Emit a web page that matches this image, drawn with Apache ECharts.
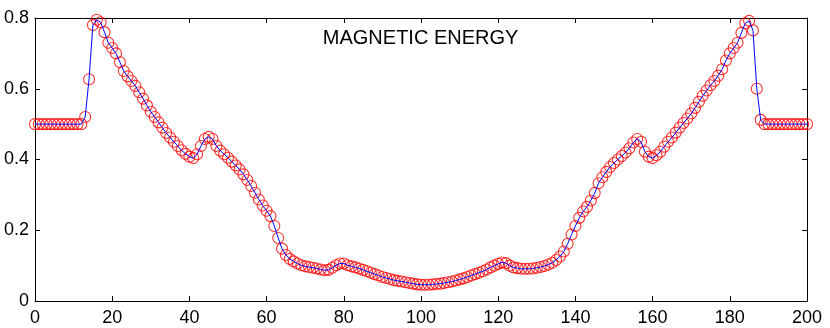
<!DOCTYPE html>
<html><head><meta charset="utf-8">
<script src="https://cdn.jsdelivr.net/npm/echarts@6/dist/echarts.min.js"></script>
<style>html,body{margin:0;padding:0;background:#fff}#c{width:830px;height:328px}</style>
</head><body><div id="c"></div>
<script>
// magnetic energy values, one per x = 0..200
const energy = [
  0.50,0.50,0.50,0.50,0.50,0.50,0.50,0.50,0.50,0.50, // 0-9
  0.50,0.50,0.50,0.52,0.627,0.78,0.795,0.788,0.76,0.73, // 10-19
  0.715,0.70,0.675,0.65,0.635,0.622,0.608,0.59,0.572,0.553, // 20-29
  0.535,0.52,0.505,0.49,0.475,0.462,0.45,0.438,0.426,0.416, // 30-39
  0.408,0.404,0.415,0.438,0.458,0.464,0.458,0.438,0.425,0.415, // 40-49
  0.405,0.394,0.383,0.372,0.358,0.342,0.325,0.306,0.287,0.27, // 50-59
  0.255,0.24,0.212,0.178,0.148,0.13,0.119,0.112,0.106,0.101, // 60-69
  0.098,0.096,0.094,0.092,0.089,0.087,0.088,0.094,0.101,0.106, // 70-79
  0.106,0.101,0.098,0.095,0.092,0.088,0.084,0.080,0.076,0.072, // 80-89
  0.068,0.065,0.062,0.059,0.057,0.055,0.053,0.051,0.049,0.047, // 90-99
  0.046,0.046,0.046,0.047,0.048,0.049,0.051,0.053,0.055,0.058, // 100-109
  0.061,0.064,0.068,0.072,0.076,0.080,0.084,0.089,0.095,0.100, // 110-119
  0.105,0.109,0.107,0.100,0.095,0.093,0.091,0.091,0.091,0.092, // 120-129
  0.094,0.096,0.099,0.103,0.108,0.116,0.126,0.140,0.162,0.188, // 130-139
  0.212,0.235,0.253,0.266,0.284,0.305,0.333,0.350,0.365,0.379, // 140-149
  0.390,0.400,0.410,0.420,0.432,0.448,0.458,0.450,0.422,0.408, // 150-159
  0.404,0.412,0.422,0.436,0.450,0.462,0.476,0.490,0.503,0.516, // 160-169
  0.530,0.546,0.563,0.580,0.595,0.610,0.622,0.637,0.655,0.680, // 170-179
  0.700,0.715,0.730,0.758,0.785,0.792,0.765,0.600,0.512,0.50, // 180-189
  0.50,0.50,0.50,0.50,0.50,0.50,0.50,0.50,0.50,0.50, // 190-199
  0.50 // 200
];
const xTicks = [0,20,40,60,80,100,120,140,160,180,200];
const yTicks = [0,0.2,0.4,0.6,0.8];
const titleText = 'MAGNETIC ENERGY';

const pts = energy.map((v, i) => [i, v]);
const FONT = '"Liberation Sans", Arial, Helvetica, sans-serif';
const chart = echarts.init(document.getElementById('c'), null, {renderer: 'canvas'});

function axisBase(isX, pos, showLabel) {
  const ticks = isX ? xTicks : yTicks;
  return {
    type: 'value', position: pos,
    min: ticks[0], max: ticks[ticks.length - 1],
    interval: ticks[1] - ticks[0],
    axisLine: {show: true, onZero: false, lineStyle: {color: '#000', width: 1}},
    axisTick: {show: true, inside: true, length: 5, lineStyle: {color: '#000', width: 1}},
    axisLabel: {
      show: showLabel, color: '#000', fontSize: 18, fontFamily: FONT, margin: isX ? 8 : 6,
      formatter: v => isX ? String(v) : (v === 0 ? '0' : v.toFixed(1))
    },
    splitLine: {show: false}
  };
}

chart.setOption({
  animation: false,
  backgroundColor: '#fff',
  title: {
    text: titleText, left: 420.6, top: 28, textAlign: 'center', padding: 0,
    textStyle: {fontSize: 20, fontWeight: 'normal', fontFamily: FONT, color: '#000'}
  },
  grid: {left: 35, right: 23, top: 18, bottom: 27, containLabel: false},
  xAxis: [axisBase(true, 'bottom', true), axisBase(true, 'top', false)],
  yAxis: [axisBase(false, 'left', true), axisBase(false, 'right', false)],
  series: [
    {
      type: 'scatter', data: pts, symbol: 'circle', symbolSize: 11, silent: true,
      itemStyle: {color: 'rgba(0,0,0,0)', borderColor: '#ff0000', borderWidth: 1.1}
    },
    {
      type: 'line', data: pts, symbol: 'none', showSymbol: false, silent: true,
      lineStyle: {color: '#0000ff', width: 1}
    }
  ]
});
</script>
</body></html>
